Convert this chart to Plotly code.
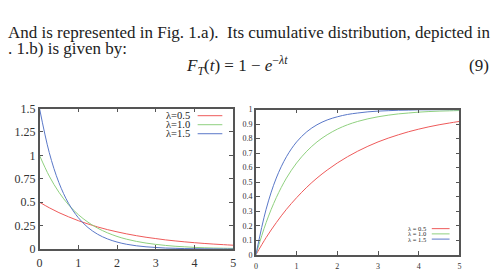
import plotly.graph_objects as go

W, H = 499, 276

t = [0, 0.25, 0.5, 0.75, 1, 1.25, 1.5, 1.75, 2, 2.25, 2.5, 2.75, 3, 3.25, 3.5, 3.75, 4, 4.25, 4.5, 4.75, 5]
labels = ["λ=0.5", "λ=1.0", "λ=1.5"]
labels_cdf = ["λ = 0.5", "λ = 1.0", "λ = 1.5"]
colors = ["#ee5a5a", "#8fd07f", "#5a78c8"]

pdf_05 = [0.5, 0.441, 0.389, 0.344, 0.303, 0.268, 0.236, 0.208, 0.184, 0.162, 0.143, 0.126, 0.112, 0.098, 0.087, 0.077, 0.068, 0.060, 0.053, 0.047, 0.041]
pdf_10 = [1.0, 0.779, 0.607, 0.472, 0.368, 0.287, 0.223, 0.174, 0.135, 0.105, 0.082, 0.064, 0.050, 0.039, 0.030, 0.024, 0.018, 0.014, 0.011, 0.009, 0.007]
pdf_15 = [1.5, 1.031, 0.709, 0.487, 0.335, 0.230, 0.158, 0.109, 0.075, 0.051, 0.035, 0.024, 0.017, 0.011, 0.008, 0.005, 0.004, 0.003, 0.002, 0.001, 0.001]

cdf_05 = [0, 0.118, 0.221, 0.313, 0.393, 0.465, 0.528, 0.583, 0.632, 0.675, 0.713, 0.747, 0.777, 0.803, 0.826, 0.847, 0.865, 0.881, 0.895, 0.907, 0.918]
cdf_10 = [0, 0.221, 0.393, 0.528, 0.632, 0.713, 0.777, 0.826, 0.865, 0.895, 0.918, 0.936, 0.950, 0.961, 0.970, 0.976, 0.982, 0.986, 0.989, 0.991, 0.993]
cdf_15 = [0, 0.313, 0.528, 0.675, 0.777, 0.847, 0.895, 0.928, 0.950, 0.966, 0.976, 0.984, 0.989, 0.992, 0.995, 0.996, 0.998, 0.998, 0.999, 0.999, 0.999]

pdf_ticks = [0, 0.25, 0.5, 0.75, 1, 1.25, 1.5]
pdf_ticktext = ["0", "0.25", "0.5", "0.75", "1", "1.25", "1.5"]
cdf_ticks = [0, 0.1, 0.2, 0.3, 0.4, 0.5, 0.6, 0.7, 0.8, 0.9, 1]
cdf_ticktext = ["0", "0.1", "0.2", "0.3", "0.4", "0.5", "0.6", "0.7", "0.8", "0.9", "1"]
x_ticks = [0, 1, 2, 3, 4, 5]

SERIF = "Liberation Serif"
AX = "#555555"

def px_x(p):
    return p / W

def px_y(p):
    return 1 - p / H

fig = go.Figure()
for ys, c in zip([pdf_05, pdf_10, pdf_15], colors):
    fig.add_trace(go.Scatter(x=t, y=ys, mode="lines", line=dict(color=c, width=1, shape="spline"),
                             xaxis="x", yaxis="y", showlegend=False, hoverinfo="skip"))
for ys, c in zip([cdf_05, cdf_10, cdf_15], colors):
    fig.add_trace(go.Scatter(x=t, y=ys, mode="lines", line=dict(color=c, width=1, shape="spline"),
                             xaxis="x2", yaxis="y2", showlegend=False, hoverinfo="skip"))

def axis_common(size):
    return dict(showline=True, linecolor=AX, linewidth=1.5, mirror="allticks", ticks="inside",
                ticklen=4, tickcolor=AX, tickwidth=1, showgrid=False, zeroline=False,
                tickfont=dict(family=SERIF, size=size, color="#333333"), fixedrange=True)

layout = dict(
    width=W, height=H, margin=dict(l=0, r=0, t=0, b=0),
    paper_bgcolor="white", plot_bgcolor="white",
    font=dict(family=SERIF),
    xaxis=dict(domain=[px_x(37), px_x(233)], range=[0, 5], tickvals=x_ticks, anchor="y",
               ticklabelstandoff=2, **axis_common(12)),
    yaxis=dict(domain=[px_y(255), px_y(107)], range=[0, 1.5], tickvals=pdf_ticks, ticktext=pdf_ticktext, anchor="x", **axis_common(12)),
    xaxis2=dict(domain=[px_x(256), px_x(462)], range=[0, 5], tickvals=x_ticks, anchor="y2",
                ticklabelstandoff=3, **axis_common(8)),
    yaxis2=dict(domain=[px_y(261), px_y(108)], range=[0, 1], tickvals=cdf_ticks, ticktext=cdf_ticktext, anchor="x2", **axis_common(8)),
)
fig.update_layout(**layout)

anns = []
shapes = []
# left legend
for i, (lab, c) in enumerate(zip(labels, colors)):
    y = px_y(114.5 + 9.5 * i)
    anns.append(dict(x=px_x(191), y=y, xref="paper", yref="paper", text=lab, showarrow=False,
                     xanchor="right", yanchor="middle", font=dict(family=SERIF, size=10.5, color="#222")))
    shapes.append(dict(type="line", xref="paper", yref="paper", x0=px_x(197), x1=px_x(222), y0=y, y1=y,
                       line=dict(color=c, width=1)))
# right legend
for i, (lab, c) in enumerate(zip(labels_cdf, colors)):
    y = px_y(233.5 + 5.5 * i)
    anns.append(dict(x=px_x(430), y=y, xref="paper", yref="paper", text=lab, showarrow=False,
                     xanchor="right", yanchor="middle", font=dict(family=SERIF, size=6.5, color="#222")))
    shapes.append(dict(type="line", xref="paper", yref="paper", x0=px_x(434), x1=px_x(452), y0=y, y1=y,
                       line=dict(color=c, width=1)))

# page text
TXT = "#222222"
FS = 17
anns.append(dict(x=px_x(3), y=px_y(27), xref="paper", yref="paper", xanchor="left", yanchor="middle",
                 text="And is represented in Fig. 1.a).  Its cumulative distribution, depicted in",
                 showarrow=False, font=dict(family=SERIF, size=FS, color=TXT)))
anns.append(dict(x=px_x(3), y=px_y(44), xref="paper", yref="paper", xanchor="left", yanchor="middle",
                 text=". 1.b) is given by:", showarrow=False, font=dict(family=SERIF, size=FS, color=TXT)))
anns.append(dict(x=px_x(237), y=px_y(62), xref="paper", yref="paper", xanchor="center", yanchor="middle",
                 text="<i>F</i><sub><i>T</i></sub>(<i>t</i>) = 1 − <i>e</i><sup>−<i>λt</i></sup>",
                 showarrow=False, font=dict(family=SERIF, size=FS, color=TXT)))
anns.append(dict(x=px_x(494), y=px_y(62), xref="paper", yref="paper", xanchor="right", yanchor="middle",
                 text="(9)", showarrow=False, font=dict(family=SERIF, size=FS, color=TXT)))

fig.update_layout(annotations=anns, shapes=shapes)
fig.write_html("out.html")
